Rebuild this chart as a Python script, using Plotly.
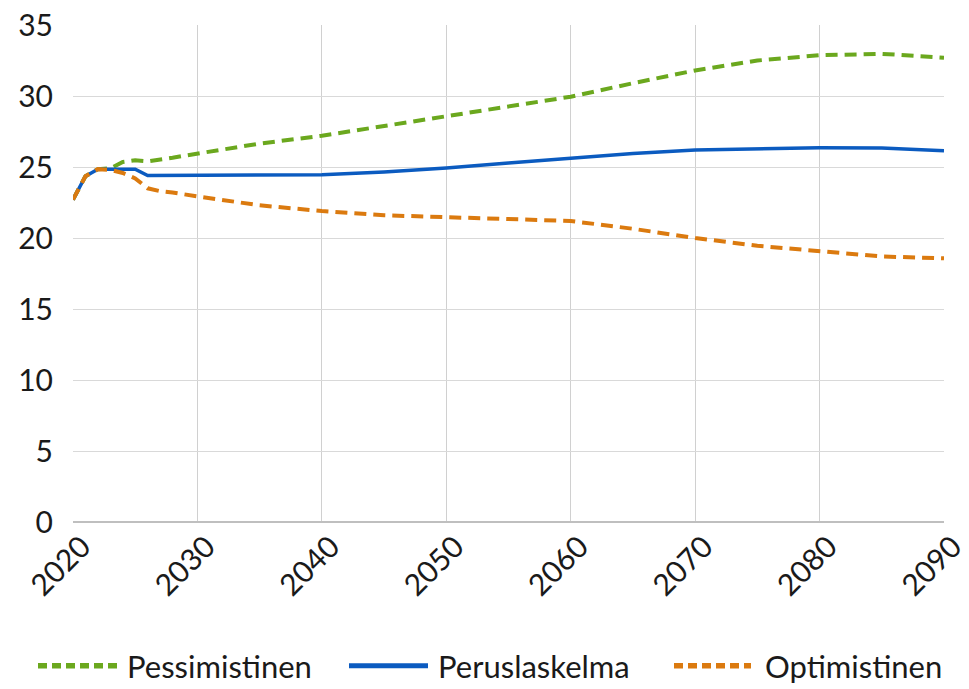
import plotly.graph_objects as go

years = [2020, 2021, 2022, 2023, 2024, 2025, 2026, 2027, 2028, 2029, 2030,
         2035, 2040, 2045, 2050, 2055, 2060, 2065, 2070, 2075, 2080, 2085, 2090]
pessimistinen = [22.7, 24.35, 24.85, 24.9, 25.35, 25.47, 25.4, 25.5, 25.65, 25.8, 25.94,
                 26.65, 27.2, 27.88, 28.54, 29.25, 29.95, 30.9, 31.8, 32.5, 32.87, 32.97, 32.7]
peruslaskelma = [22.7, 24.35, 24.85, 24.85, 24.85, 24.85, 24.4, 24.4, 24.4, 24.4, 24.4,
                 24.4, 24.45, 24.65, 24.93, 25.28, 25.6, 25.95, 26.2, 26.3, 26.35, 26.33, 26.15]
optimistinen = [22.7, 24.35, 24.85, 24.8, 24.58, 24.2, 23.5, 23.3, 23.2, 23.05, 22.93,
                22.3, 21.9, 21.6, 21.46, 21.35, 21.2, 20.65, 20.0, 19.45, 19.05, 18.7, 18.57]
x_ticks = [2020, 2030, 2040, 2050, 2060, 2070, 2080, 2090]
y_ticks = [0, 5, 10, 15, 20, 25, 30, 35]
series_names = ["Pessimistinen", "Peruslaskelma", "Optimistinen"]

FONT = "Lato"
FS = 30
FS_LEG = 31
COLORS = ["#6BA81E", "#0B5BC0", "#DB7A0F"]
DASHES = ["12px,7px", "solid", "12px,7px"]
WIDTHS = [4, 3.5, 4]
series = [pessimistinen, peruslaskelma, optimistinen]

# plot area in pixels
L, R, T, B = 73, 944, 24.5, 522
W, H = 969, 689

fig = go.Figure()
for name, vals, c, d, w in zip(series_names, series, COLORS, DASHES, WIDTHS):
    fig.add_trace(go.Scatter(x=years, y=vals, mode="lines", name=name,
                             line=dict(color=c, width=w, dash=d), showlegend=False))

def px_x(px):
    return (px - L) / (R - L)

def px_y(py):
    return (B - py) / (B - T)

# manual legend (long line samples like the reference)
legend_items = [(38, 117, 126), (349, 428, 437), (674, 751, 764)]
ly = px_y(666)
for (x0, x1, tx), name, c, d, w in zip(legend_items, series_names, COLORS, DASHES, WIDTHS):
    fig.add_shape(type="line", xref="paper", yref="paper",
                  x0=px_x(x0), x1=px_x(x1), y0=ly, y1=ly,
                  line=dict(color=c, width=w + 1.5, dash=("9px,5px" if d != "solid" else "solid")))
    fig.add_annotation(xref="paper", yref="paper", x=px_x(tx), y=ly, text=name,
                       showarrow=False, xanchor="left", yanchor="middle", borderpad=0,
                       font=dict(family=FONT, size=FS_LEG, color="#1A1A1A"))

fig.update_layout(
    width=W, height=H,
    margin=dict(l=L, r=W - R, t=T, b=H - B, pad=0),
    paper_bgcolor="white", plot_bgcolor="white",
    font=dict(family=FONT, size=FS, color="#1A1A1A"),
    showlegend=False,
)
fig.update_xaxes(range=[2020, 2090], tickvals=x_ticks, ticktext=[str(v) for v in x_ticks],
                 tickangle=-45, showgrid=True, gridcolor="#D0D0D0", gridwidth=1,
                 showline=False, zeroline=False, ticks="", tickfont=dict(size=FS),
                 automargin=False, ticklabelstandoff=0, ticklabelshift=9,
                 ticklabeloverflow="allow")
fig.update_yaxes(range=[0, 35], tickvals=y_ticks, showgrid=True, gridcolor="#D9D9D9",
                 gridwidth=1, zeroline=True, zerolinecolor="#BFBFBF", zerolinewidth=1.5,
                 showline=False, ticks="", tickfont=dict(size=FS),
                 automargin=False, ticklabelstandoff=19)

fig.write_html("out.html", config={"displayModeBar": False},
               post_script="document.body.style.margin='0';document.body.style.overflow='hidden';")
